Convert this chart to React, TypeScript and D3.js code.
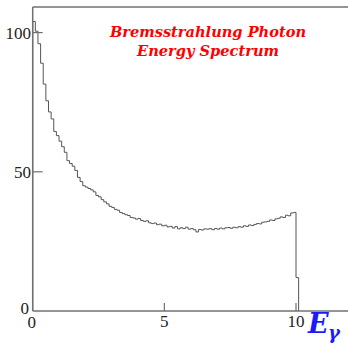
import * as d3 from 'd3'

// bin width 0.1 GeV, starting at 0
const binWidth = 0.1
const counts = [
  104, 100.5, 96, 89, 81.5, 75.5, 71.5, 69, 64.5, 63,
  61, 59, 57, 54, 53, 52, 50.5, 48, 46.5, 45,
  44.5, 44, 43.5, 42.8, 41.5, 41, 40, 39.2, 38.5, 37.6,
  37.2, 36.5, 36.2, 35.4, 35, 34.6, 34.3, 33.6, 33.4, 33.0,
  33.2, 32.5, 32.2, 32.4, 31.7, 31.4, 31.6, 31.0, 31.2, 30.6,
  30.8, 30.2, 30.4, 29.8, 30.3, 29.5, 29.9, 29.6, 30.1, 29.4,
  29.6, 29.2, 28.4, 29.3, 29.1, 29.5, 29.4, 29.6, 29.2, 29.6,
  29.4, 29.8, 29.5, 29.9, 30.0, 29.7, 30.1, 29.9, 30.3, 30.1,
  30.6, 30.4, 30.9, 30.7, 31.1, 31.4, 31.3, 31.9, 32.0, 32.2,
  32.7, 32.5, 33.1, 33.3, 33.8, 33.6, 34.4, 34.2, 35.2, 35.4,
  12,
]
const xTicks = [0, 5, 10]
const yTicks = [0, 50, 100]
const titleLines = ['Bremsstrahlung Photon', 'Energy Spectrum']

export default function App() {
  const width = 348, height = 343
  const left = 32.7, top = 7, bottom = 311
  const x = d3.scaleLinear().domain([0, 12]).range([left, left + 12 * 26.33])
  const y = d3.scaleLinear().domain([0, 109.2]).range([bottom, top])

  const pts: [number, number][] = [[0, 0]]
  counts.forEach((c, i) => pts.push([i * binWidth, c]))
  pts.push([counts.length * binWidth, 0])
  const line = d3.line<[number, number]>().x(d => x(d[0])).y(d => y(d[1])).curve(d3.curveStepAfter)

  const axisCol = '#707070'
  return (
    <svg width={width} height={height} style={{ position: 'absolute', left: 0, top: 0 }}>
      <rect width={width} height={height} fill="#fff" />
      <path d={line(pts) ?? ''} fill="none" stroke="#555" strokeWidth={1} />
      {/* frame */}
      <line x1={left} x2={width} y1={top} y2={top} stroke={axisCol} strokeWidth={1.5} />
      <line x1={left} x2={left} y1={top} y2={bottom} stroke={axisCol} strokeWidth={1.5} />
      <line x1={left} x2={width} y1={bottom} y2={bottom} stroke={axisCol} strokeWidth={1.5} />
      {yTicks.map(t => (
        <g key={'y' + t}>
          {t > 0 && <line x1={left} x2={left + 10} y1={y(t)} y2={y(t)} stroke={axisCol} strokeWidth={1.2} />}
          <text x={t === 0 ? 29 : 31} y={y(t) + (t === 0 ? 3 : 6)} textAnchor="end" fontFamily="Liberation Serif" fontSize={17} fill="#222">{t}</text>
        </g>
      ))}
      {xTicks.map(t => (
        <g key={'x' + t}>
          {t > 0 && <line x1={x(t)} x2={x(t)} y1={bottom} y2={bottom - 8} stroke={axisCol} strokeWidth={1.2} />}
          <text x={x(t) - (t === 0 ? 1 : 0)} y={t === 0 ? 328 : 327} textAnchor="middle" fontFamily="Liberation Serif" fontSize={17} fill="#222">{t}</text>
        </g>
      ))}
      {titleLines.map((s, i) => (
        <text key={s} x={208} y={36.7 + i * 19.3} textAnchor="middle" fontFamily="DejaVu Serif" fontWeight="bold" fontStyle="italic" fontSize={14.6} fill="#ff0000">{s}</text>
      ))}
      <text x={308} y={333} fontFamily="DejaVu Serif" fontWeight="bold" fontStyle="italic" fontSize={27} fill="#1a1aff">E</text>
      <text x={328} y={339} fontFamily="DejaVu Serif" fontWeight="bold" fontStyle="italic" fontSize={18} fill="#1a1aff">γ</text>
    </svg>
  )
}
